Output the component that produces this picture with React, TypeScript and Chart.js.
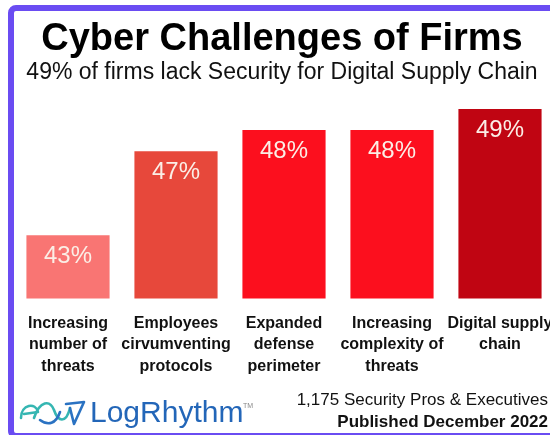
import { useEffect, useRef } from "react";
import { Chart, registerables } from "chart.js";
Chart.register(...registerables);

const categories: string[][] = [
  ["Increasing", "number of", "threats"],
  ["Employees", "cirvumventing", "protocols"],
  ["Expanded", "defense", "perimeter"],
  ["Increasing", "complexity of", "threats"],
  ["Digital supply", "chain"],
];
const values = [43, 47, 48, 48, 49];
const valueLabels = ["43%", "47%", "48%", "48%", "49%"];
const barColors = ["#f97573", "#e7483b", "#fc0f1e", "#fc0f1e", "#c00512"];
const titleText = "Cyber Challenges of Firms";
const subtitleText = "49% of firms lack Security for Digital Supply Chain";
const footerLines = ["1,175 Security Pros & Executives", "Published December 2022"];
const brandText = "LogRhythm";

const SANS = '"Liberation Sans", Arial, sans-serif';

const decorPlugin = {
  id: "decor",
  beforeDraw(chart: any) {
    const ctx = chart.ctx;
    ctx.save();
    ctx.fillStyle = "#ffffff";
    ctx.fillRect(0, 0, chart.width, chart.height);
    ctx.restore();
  },
  afterDraw(chart: any) {
    const ctx = chart.ctx;
    ctx.save();
    // frame
    ctx.strokeStyle = "#6a4cf2";
    ctx.lineWidth = 6;
    ctx.beginPath();
    (ctx as any).roundRect(11, 8, 600, 428, 5);
    ctx.stroke();

    // title / subtitle
    ctx.fillStyle = "#000000";
    ctx.textAlign = "center";
    ctx.textBaseline = "alphabetic";
    ctx.font = `bold 38px ${SANS}`;
    ctx.fillText(titleText, 282, 50);
    ctx.fillStyle = "#111111";
    ctx.font = `23px ${SANS}`;
    ctx.fillText(subtitleText, 282, 79);

    // value labels
    const meta = chart.getDatasetMeta(0);
    ctx.fillStyle = "#fbeee6";
    ctx.font = `24px ${SANS}`;
    meta.data.forEach((bar: any, i: number) => {
      ctx.fillText(valueLabels[i], bar.x, bar.y + 27.5);
    });

    // footer
    ctx.textAlign = "right";
    ctx.fillStyle = "#111111";
    ctx.font = `17px ${SANS}`;
    ctx.fillText(footerLines[0], 548, 405);
    ctx.font = `bold 17px ${SANS}`;
    ctx.fillText(footerLines[1], 548, 427);

    // brand
    ctx.textAlign = "left";
    ctx.fillStyle = "#2366b8";
    ctx.font = `30px ${SANS}`;
    ctx.fillText(brandText, 90, 422);
    ctx.fillStyle = "#888";
    ctx.font = `7px ${SANS}`;
    ctx.fillText("TM", 243, 408);

    // logo wave
    ctx.lineCap = "round";
    ctx.lineJoin = "round";
    ctx.lineWidth = 2.6;
    ctx.strokeStyle = "#35b6b2";
    ctx.beginPath();
    ctx.moveTo(21, 418);
    ctx.bezierCurveTo(21, 404, 36, 402, 38, 412);
    ctx.lineTo(24, 414);
    ctx.stroke();
    ctx.beginPath();
    ctx.moveTo(34, 418);
    ctx.bezierCurveTo(40, 400, 50, 400, 54, 410);
    ctx.bezierCurveTo(58, 422, 66, 424, 70, 408);
    ctx.stroke();
    ctx.strokeStyle = "#2a72c2";
    ctx.beginPath();
    ctx.moveTo(40, 420);
    ctx.bezierCurveTo(48, 426, 56, 424, 60, 412);
    ctx.stroke();
    ctx.beginPath();
    ctx.moveTo(66, 404);
    ctx.lineTo(84, 402);
    ctx.lineTo(74, 424);
    ctx.lineTo(70, 408);
    ctx.stroke();
    ctx.restore();
  },
};

export default function App() {
  const ref = useRef<HTMLCanvasElement | null>(null);
  useEffect(() => {
    if (!ref.current) return;
    const chart = new Chart(ref.current, {
      type: "bar",
      data: {
        labels: categories,
        datasets: [
          {
            data: values,
            backgroundColor: barColors,
            borderWidth: 0,
            categoryPercentage: 1,
            barPercentage: 0.77,
          },
        ],
      },
      options: {
        animation: false,
        responsive: false,
        layout: { padding: { top: 88, left: 14, right: 26, bottom: 52 } },
        plugins: {
          legend: { display: false },
          tooltip: { enabled: false },
          title: { display: false },
        },
        scales: {
          x: {
            grid: { display: false },
            border: { display: false },
            ticks: {
              color: "#111111",
              padding: 6,
              autoSkip: false,
              maxRotation: 0,
              font: { family: SANS, size: 16, weight: "bold", lineHeight: "21.5px" },
            },
          },
          y: { display: false, min: 40, max: 50 },
        },
      },
      plugins: [decorPlugin],
    });
    return () => chart.destroy();
  }, []);
  return (
    <div style={{ position: "fixed", left: 0, top: 0, width: 550, height: 435, overflow: "hidden", background: "#fff" }}>
      <canvas ref={ref} width={580} height={435} />
    </div>
  );
}
